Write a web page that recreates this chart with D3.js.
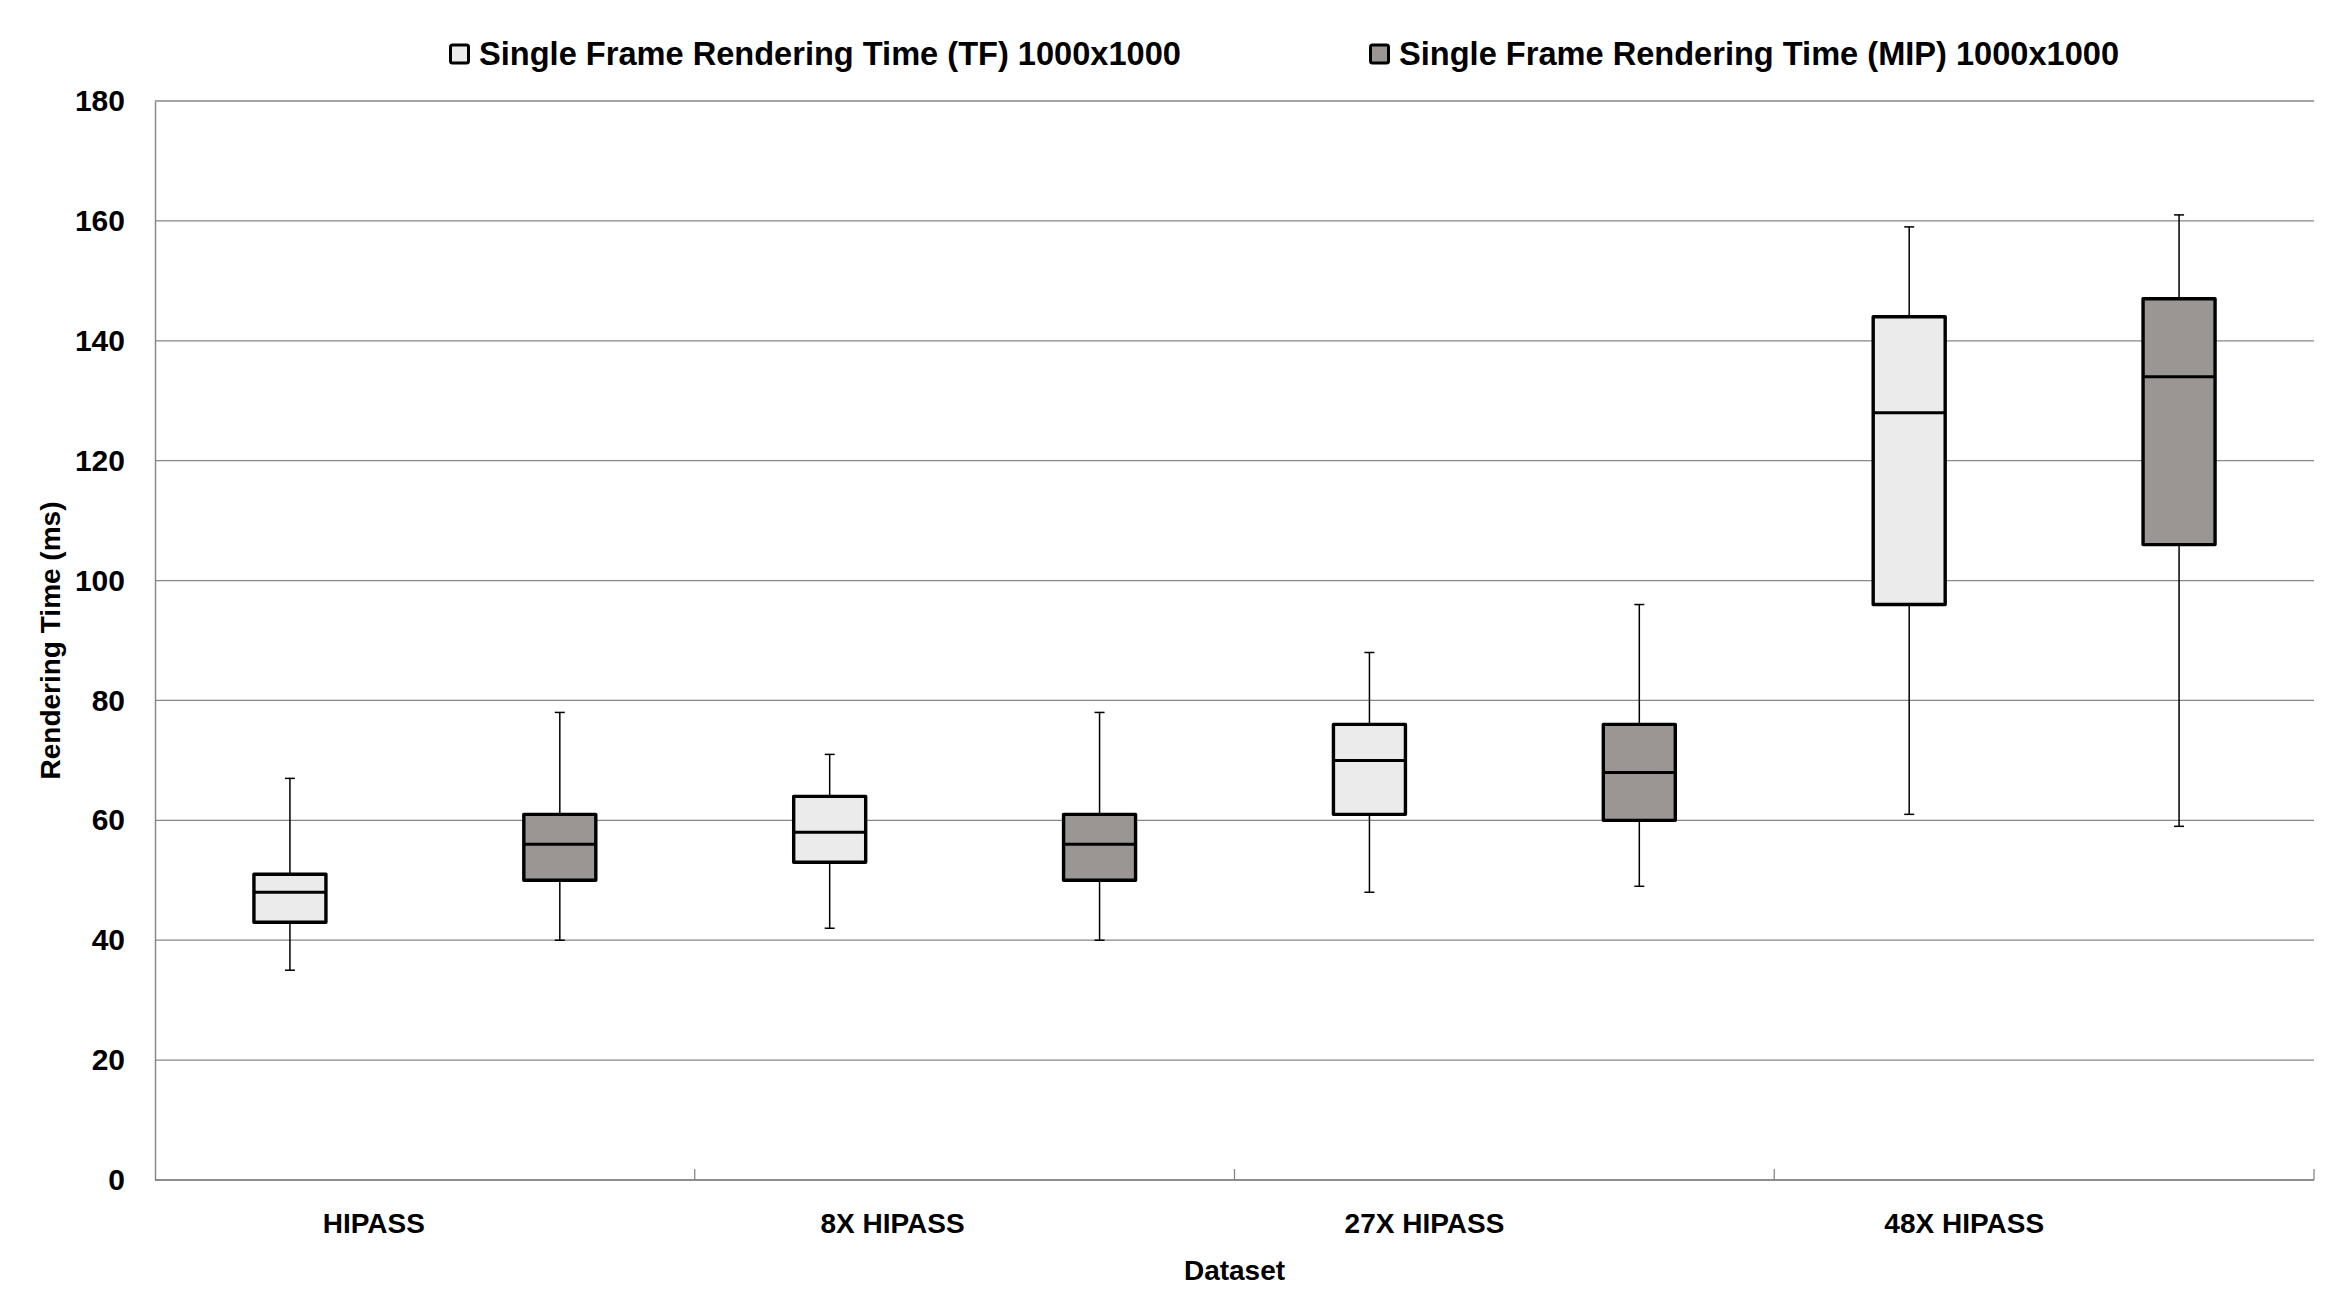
<!DOCTYPE html>
<html lang="en">
  <head>
    <meta charset="utf-8">
    <title>Rendering Time box plot</title>
    <style>
      body { margin: 0; background: white; }
      text { font-family: "Liberation Sans", Arial, sans-serif; font-weight: bold; fill: black; }
    </style>
    <script src="https://cdn.jsdelivr.net/npm/d3@7"></script>
  </head>
  <body>
    <script type="text/javascript">

      // data
      var categories = ["HIPASS", "8X HIPASS", "27X HIPASS", "48X HIPASS"];
      var seriesNames = ["Single Frame Rendering Time (TF) 1000x1000",
                         "Single Frame Rendering Time (MIP) 1000x1000"];

      var tfMin = [35, 42, 48, 61];
      var tfQ1  = [43, 53, 61, 96];
      var tfMed = [48, 58, 70, 128];
      var tfQ3  = [51, 64, 76, 144];
      var tfMax = [67, 71, 88, 159];

      var mipMin = [40, 40, 49, 59];
      var mipQ1  = [50, 50, 60, 106];
      var mipMed = [56, 56, 68, 134];
      var mipQ3  = [61, 61, 76, 147];
      var mipMax = [78, 78, 96, 161];

      var yTicks = [0, 20, 40, 60, 80, 100, 120, 140, 160, 180];

      //Width and height
      var w = 2336;
      var h = 1315;
      var margin = {top: 101, right: 22, bottom: 135, left: 155};
      var innerWidth = w - margin.left - margin.right;
      var innerHeight = h - margin.top - margin.bottom;

      var fills = ["#ebebeb", "#9b9594"];

      // build one row per box
      var boxes = [];
      categories.forEach(function(c, i) {
        boxes.push({cat: c, series: seriesNames[0], fill: fills[0],
                    min: tfMin[i], q1: tfQ1[i], med: tfMed[i], q3: tfQ3[i], max: tfMax[i]});
        boxes.push({cat: c, series: seriesNames[1], fill: fills[1],
                    min: mipMin[i], q1: mipQ1[i], med: mipMed[i], q3: mipQ3[i], max: mipMax[i]});
      });

      var svg = d3.select("body")
          .append("svg")
          .attr("width", w)
          .attr("height", h);

      svg.append("rect")
          .attr("width", w)
          .attr("height", h)
          .attr("fill", "white");

      var xScale = d3.scaleBand()
          .domain(categories)
          .range([0, innerWidth])
          .padding(0);

      var xSub = d3.scaleBand()
          .domain(seriesNames)
          .range([0, xScale.bandwidth()])
          .padding(0);

      var yScale = d3.scaleLinear()
          .domain([0, 180])
          .range([innerHeight, 0]);

      var g = svg.append("g")
          .attr("transform", `translate (${margin.left}, ${margin.top})`);

// gridlines
      g.append("g")
          .selectAll("line")
          .data(yTicks)
          .enter().append("line")
          .attr("x1", 0)
          .attr("x2", innerWidth)
          .attr("y1", function(d) { return yScale(d) })
          .attr("y2", function(d) { return yScale(d) })
          .style("stroke", "#878787")
          .style("stroke-width", "1.3px");

// y axis
      var yAxis = d3.axisLeft(yScale)
          .tickValues(yTicks)
          .tickSize(0)
          .tickPadding(30);

      var ya = g.append("g")
          .attr("class", "yAxis")
          .attr("font-size", 30)
          .attr("font-family", "'Liberation Sans', Arial, sans-serif")
          .call(yAxis);
      ya.select(".domain").style("stroke", "#878787").style("stroke-width", "1.5px");
      ya.selectAll("text")
          .style("font-size", "30px")
          .style("font-weight", "bold");

// x axis (ticks point inward, at band edges)
      var xa = g.append("g")
          .attr("class", "xAxis")
          .attr("transform", `translate (0, ${innerHeight})`);

      xa.append("line")
          .attr("x1", 0)
          .attr("x2", innerWidth)
          .style("stroke", "#878787")
          .style("stroke-width", "1.5px");

      xa.selectAll("line.tick")
          .data(categories)
          .enter().append("line")
          .attr("class", "tick")
          .attr("x1", function(d) { return xScale(d) + xScale.bandwidth() })
          .attr("x2", function(d) { return xScale(d) + xScale.bandwidth() })
          .attr("y1", 0)
          .attr("y2", -11)
          .style("stroke", "#878787")
          .style("stroke-width", "1.3px");

      xa.selectAll("text")
          .data(categories)
          .enter().append("text")
          .attr("x", function(d) { return xScale(d) + xScale.bandwidth() / 2 })
          .attr("y", 53)
          .attr("text-anchor", "end")
          .style("font-size", "28px")
          .text(function(d) { return d });

// axis titles
      g.append("text")
          .attr("x", innerWidth / 2)
          .attr("y", innerHeight + 100)
          .attr("text-anchor", "middle")
          .style("font-size", "28px")
          .text("Dataset");

      g.append("text")
          .attr("transform", `translate (${60 - margin.left}, ${innerHeight / 2}) rotate(-90)`)
          .attr("text-anchor", "middle")
          .style("font-size", "28px")
          .text("Rendering Time (ms)");

// add boxes
      var boxW = 72;
      var capW = 10;

      var bx = g.append("g")
          .attr("id", "plot")
          .selectAll("g")
          .data(boxes)
          .enter().append("g")
          .attr("transform", function(d) {
            return `translate (${xScale(d.cat) + xSub(d.series) + xSub.bandwidth() / 2}, 0)`;
          });

      // whiskers
      bx.append("line")
          .attr("x1", 0).attr("x2", 0)
          .attr("y1", function(d) { return yScale(d.max) })
          .attr("y2", function(d) { return yScale(d.min) })
          .style("stroke", "black")
          .style("stroke-width", "1.5px");

      bx.append("line")
          .attr("x1", -capW / 2).attr("x2", capW / 2)
          .attr("y1", function(d) { return yScale(d.max) })
          .attr("y2", function(d) { return yScale(d.max) })
          .style("stroke", "black")
          .style("stroke-width", "1.5px");

      bx.append("line")
          .attr("x1", -capW / 2).attr("x2", capW / 2)
          .attr("y1", function(d) { return yScale(d.min) })
          .attr("y2", function(d) { return yScale(d.min) })
          .style("stroke", "black")
          .style("stroke-width", "1.5px");

      // box
      bx.append("rect")
          .attr("x", -boxW / 2)
          .attr("width", boxW)
          .attr("y", function(d) { return yScale(d.q3) })
          .attr("height", function(d) { return yScale(d.q1) - yScale(d.q3) })
          .attr("fill", function(d) { return d.fill })
          .style("stroke", "black")
          .style("stroke-width", "3.4px")
          .style("stroke-linejoin", "round");

      // median
      bx.append("line")
          .attr("x1", -boxW / 2).attr("x2", boxW / 2)
          .attr("y1", function(d) { return yScale(d.med) })
          .attr("y2", function(d) { return yScale(d.med) })
          .style("stroke", "black")
          .style("stroke-width", "3px");

// legend
      var legendX = [449, 1369];

      var lg = svg.append("g")
          .selectAll("g")
          .data(seriesNames)
          .enter().append("g")
          .attr("transform", function(d, i) { return `translate (${legendX[i]}, 54)` });

      lg.append("rect")
          .attr("x", 1.5)
          .attr("y", -9)
          .attr("width", 18)
          .attr("height", 18)
          .attr("rx", 2)
          .attr("fill", function(d, i) { return fills[i] })
          .style("stroke", "black")
          .style("stroke-width", "3px");

      lg.append("text")
          .attr("x", 30)
          .attr("y", 11)
          .style("font-size", "32.6px")
          .text(function(d) { return d });

    </script>
  </body>
</html>
